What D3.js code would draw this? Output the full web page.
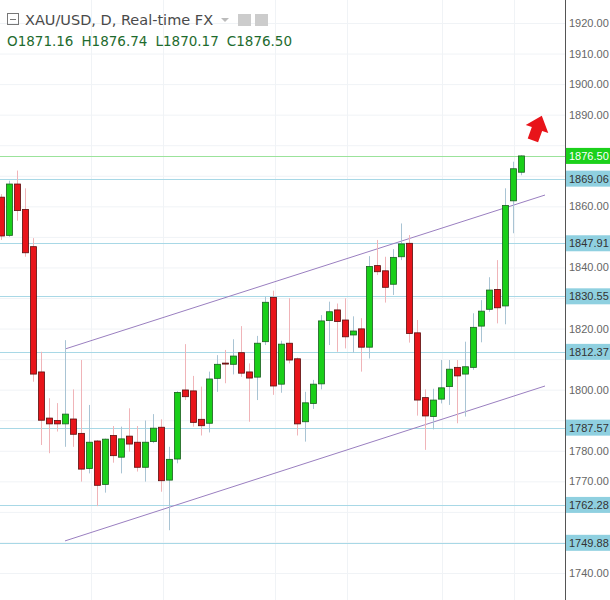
<!DOCTYPE html>
<html><head><meta charset="utf-8">
<script src="https://cdn.jsdelivr.net/npm/d3@7"></script>
<style>body{margin:0;background:#fff}svg{display:block}</style>
</head><body><svg id="c" width="610" height="600"></svg>
<script>
const opens=[1863,1850.5,1867.3,1859,1846.8,1805.8,1790.7,1789.9,1788.8,1790.4,1785.7,1774.2,1783.2,1769,1785,1777.9,1784.8,1782.8,1774.6,1783,1787.7,1770.4,1777.3,1799.9,1799.6,1790.3,1789,1803.7,1808.7,1808.3,1812.1,1805.8,1804.1,1815.7,1830.2,1801.8,1815.2,1810.1,1789.5,1795.5,1801.9,1822.6,1826.1,1822.8,1817.9,1819.9,1813.9,1840.6,1838.9,1834.5,1843.5,1847.9,1818.6,1797.4,1791.2,1796.9,1801,1807.3,1805.1,1807.3,1820.8,1826.3,1832.8,1827.4,1861.8,1871.16];
const highs=[1864,1868.4,1871.7,1865.9,1849.6,1812.4,1797.2,1795.6,1816.2,1800.1,1809.7,1795,1783.5,1784,1788.1,1787.9,1793.9,1788.1,1789.9,1792,1790.3,1781.3,1799.5,1814.9,1804.5,1801,1805.9,1811.3,1813,1816.5,1820.8,1808.6,1817.6,1830.4,1832.4,1816,1829.9,1810.5,1799.3,1803.2,1824.4,1828.8,1828.2,1829.9,1824,1823.4,1843.7,1849,1843.5,1846,1854.4,1850.6,1822.8,1800.1,1800.3,1809.7,1809.7,1809.7,1815.7,1825,1829.3,1836.8,1842.4,1865.9,1874.6,1876.74];
const lows=[1849,1850,1855.3,1843.5,1802.6,1781.9,1779.2,1786.3,1781.3,1781.3,1769.9,1772.6,1761.9,1766.3,1776.1,1772.6,1779.7,1773.2,1769.9,1782.5,1766.6,1754,1775.9,1796.6,1787.9,1785,1786,1799.3,1802.1,1805,1804.2,1789.5,1796.6,1814.6,1798.3,1799,1808.6,1785,1783,1793.7,1800.1,1814.6,1812.4,1813.5,1812.1,1805.9,1810.2,1837.5,1828.5,1831,1842.4,1815.4,1791.5,1780.3,1787,1795.5,1795,1789,1791.2,1806.5,1815.5,1825.5,1821.7,1821.4,1851.2,1870.17];
const closes=[1850.3,1867.3,1858.6,1844.8,1805.1,1790,1788.8,1788.8,1792,1785.4,1774,1782.8,1768.7,1783.8,1778.4,1783.9,1782.2,1774.6,1782.8,1787.4,1770.2,1777.2,1799.1,1797.7,1789.3,1788.2,1803.5,1808.3,1808.5,1811,1805.4,1803.8,1815.2,1828.6,1801.2,1814.9,1809.7,1788.8,1795.7,1801.8,1822.5,1825.5,1822.3,1817.3,1819.2,1813.9,1840.3,1838.6,1833.5,1843.3,1847.7,1818.4,1796.6,1791.4,1796.6,1800.6,1806.7,1804.5,1807.5,1820.4,1825.7,1832.6,1826.8,1860.3,1872.3,1876.50];
const yTicks=[1740,1750,1760,1770,1780,1790,1800,1810,1820,1830,1840,1850,1860,1870,1880,1890,1900,1910,1920];
const levels=[1869.06,1847.91,1830.55,1812.37,1787.57,1762.28,1749.88];
const lastPrice=1876.50;
const vGrid=[11.2,20.2,34.3,43.2,55.1,64.1];
const channel=[{i0:8,v0:1813.3,i1:68,v1:1863.7},{i0:8,v0:1750.5,i1:68,v1:1801.2}];

const svg=d3.select("#c");
const y=d3.scaleLinear().domain([1740,1920]).range([573,23]);
const x=d3.scaleLinear().domain([0,65]).range([1,521]);
const AX=565, FONT="Liberation Sans";
const g=svg.append("g");
g.selectAll(".hg").data(yTicks).join("line").attr("x1",0).attr("x2",AX).attr("y1",d=>y(d)+.5).attr("y2",d=>y(d)+.5).attr("stroke","#f0f3f6");
g.selectAll(".vg").data(vGrid).join("line").attr("y1",0).attr("y2",600).attr("x1",d=>Math.round(x(d))+.5).attr("x2",d=>Math.round(x(d))+.5).attr("stroke","#f0f3f6");
g.selectAll(".lv").data(levels).join("line").attr("x1",0).attr("x2",AX).attr("y1",d=>Math.round(y(d))+.5).attr("y2",d=>Math.round(y(d))+.5).attr("stroke","#a8d8e6");
g.append("line").attr("x1",0).attr("x2",AX).attr("y1",Math.round(y(lastPrice))+.5).attr("y2",Math.round(y(lastPrice))+.5).attr("stroke","#9be39b");
g.selectAll(".ch").data(channel).join("line").attr("x1",d=>x(d.i0)).attr("x2",d=>x(d.i1)).attr("y1",d=>y(d.v0)).attr("y2",d=>y(d.v1)).attr("stroke","#9a7fc0").attr("stroke-width",1);
const idx=d3.range(opens.length);
const up=i=>closes[i]>=opens[i];
g.selectAll(".wk").data(idx).join("line").attr("x1",i=>Math.round(x(i))+.5).attr("x2",i=>Math.round(x(i))+.5)
 .attr("y1",i=>y(highs[i])).attr("y2",i=>y(lows[i])).attr("stroke",i=>up(i)?"#a9c4d4":"#f0b4b8");
g.selectAll(".bd").data(idx).join("rect").attr("x",i=>Math.round(x(i))-2.5).attr("width",6)
 .attr("y",i=>y(Math.max(opens[i],closes[i]))).attr("height",i=>Math.max(1,Math.abs(y(opens[i])-y(closes[i]))))
 .attr("fill",i=>up(i)?"#19cf19":"#e8141a").attr("stroke",i=>up(i)?"#1b5e20":"#5a0d0d").attr("stroke-width",.8);
svg.append("rect").attr("x",AX).attr("y",0).attr("width",45).attr("height",600).attr("fill","#fff");
svg.append("line").attr("x1",AX+.5).attr("x2",AX+.5).attr("y1",0).attr("y2",600).attr("stroke","#555");
const allLabels=levels.concat([lastPrice]);
const visTicks=yTicks.filter(t=>allLabels.every(l=>Math.abs(y(t)-y(l))>13));
svg.selectAll(".tk").data(visTicks).join("text").attr("x",569).attr("y",d=>y(d)+4).text(d=>d.toFixed(2))
 .attr("font-family",FONT).attr("font-size",11).attr("fill","#666");
const lg=svg.selectAll(".lb").data(levels).join("g");
lg.append("rect").attr("x",AX+1).attr("y",d=>y(d)-8).attr("width",45).attr("height",16).attr("fill","#8fd0e0");
lg.append("text").attr("x",569).attr("y",d=>y(d)+4).text(d=>d.toFixed(2)).attr("font-family",FONT).attr("font-size",11).attr("fill","#333");
svg.append("rect").attr("x",AX+1).attr("y",y(lastPrice)-8).attr("width",45).attr("height",16).attr("fill","#1bd11b");
svg.append("text").attr("x",569).attr("y",y(lastPrice)+4).text(lastPrice.toFixed(2)).attr("font-family",FONT).attr("font-size",11).attr("fill","#fff");
svg.append("path").attr("d","M0,-14 L12,0 L5.5,0 L5.5,12 L-5.5,12 L-5.5,0 L-12,0 Z").attr("fill","#e8141a")
 .attr("transform","translate(537,129) rotate(20)");
svg.append("rect").attr("x",7.5).attr("y",13.5).attr("width",11).attr("height",11).attr("fill","none").attr("stroke","#777");
svg.append("line").attr("x1",10).attr("x2",16).attr("y1",19.5).attr("y2",19.5).attr("stroke","#777");
svg.append("text").attr("x",25).attr("y",25).text("XAU/USD, D, Real-time FX").attr("font-family","DejaVu Sans").attr("font-size",14.5).attr("fill","#4a4a4a");
svg.append("path").attr("d","M221,18 L229,18 L225,22 Z").attr("fill","#bbb");
svg.append("rect").attr("x",238).attr("y",14).attr("width",13).attr("height",12).attr("fill","#ccc");
svg.append("rect").attr("x",255).attr("y",14).attr("width",13).attr("height",12).attr("fill","#ccc");
const hdr=[["O",opens[65]],["H",highs[65]],["L",lows[65]],["C",closes[65]]];
const ht=svg.append("text").attr("x",7).attr("y",46).attr("font-family","DejaVu Sans").attr("font-size",13.5).attr("fill","#1e6b2e");
hdr.forEach((d,k)=>{ht.append("tspan").attr("dx",k?8:0).text(d[0]+d[1].toFixed(2));});
</script></body></html>
